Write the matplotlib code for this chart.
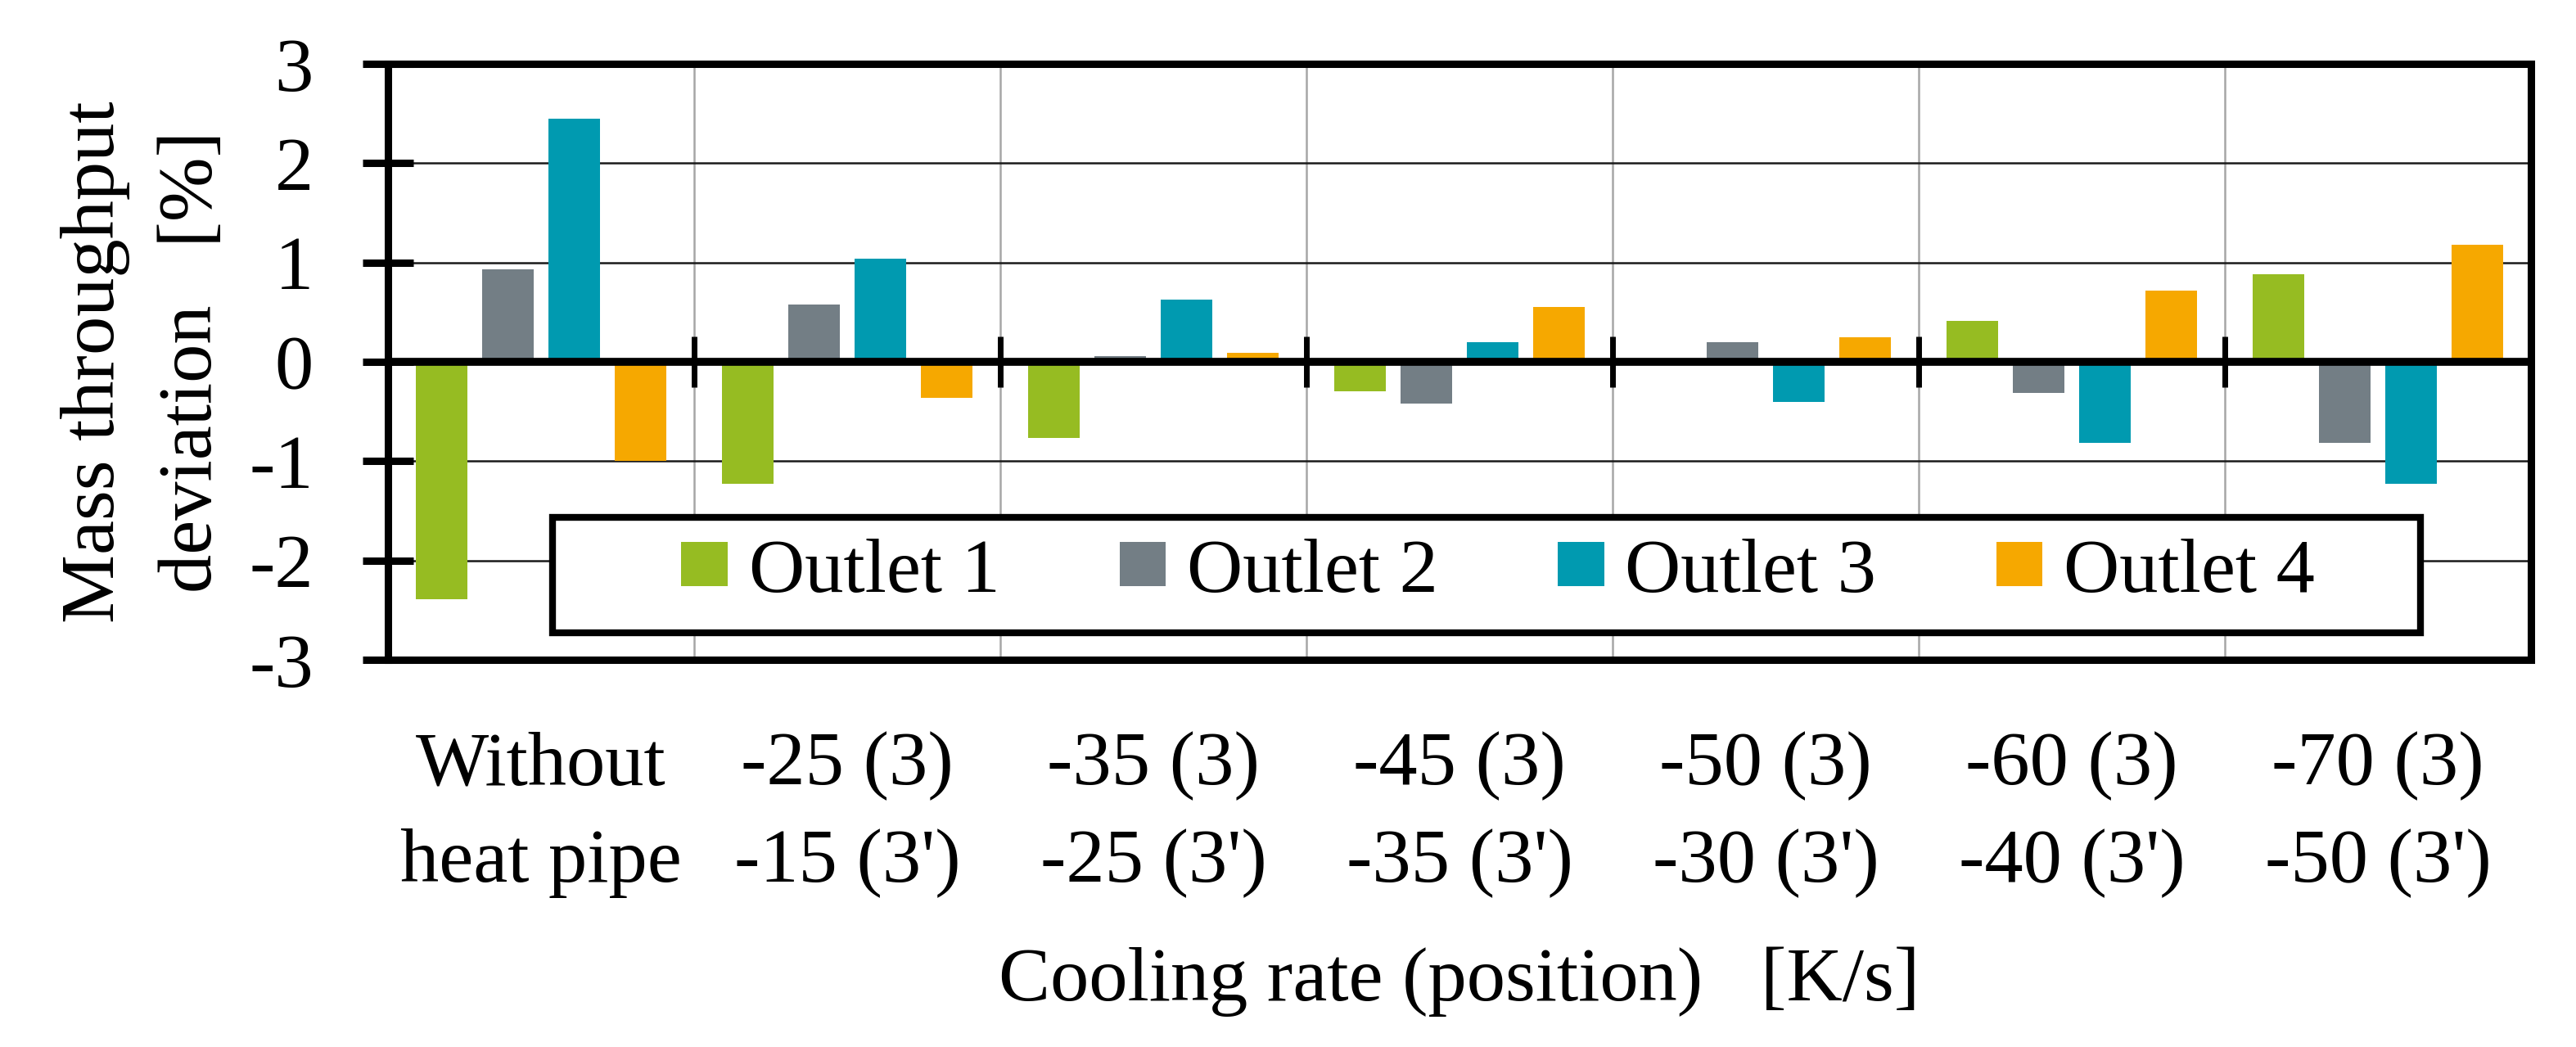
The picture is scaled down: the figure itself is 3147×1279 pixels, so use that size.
import matplotlib.pyplot as plt
import numpy as np
from matplotlib.patches import Rectangle

plt.rcParams["font.family"] = ["Liberation Serif", "DejaVu Serif"]
plt.rcParams["axes.unicode_minus"] = False

# Data
categories = [
    "Without\nheat pipe",
    "-25 (3)\n-15 (3')",
    "-35 (3)\n-25 (3')",
    "-45 (3)\n-35 (3')",
    "-50 (3)\n-30 (3')",
    "-60 (3)\n-40 (3')",
    "-70 (3)\n-50 (3')",
]
series_names = ["Outlet 1", "Outlet 2", "Outlet 3", "Outlet 4"]
outlet_1 = [-2.39, -1.23, -0.77, -0.30, -0.03, 0.41, 0.88]
outlet_2 = [0.93, 0.58, 0.06, -0.42, 0.20, -0.31, -0.82]
outlet_3 = [2.45, 1.04, 0.63, 0.20, -0.40, -0.82, -1.23]
outlet_4 = [-1.00, -0.36, 0.09, 0.55, 0.25, 0.72, 1.18]
y_ticks = [-3, -2, -1, 0, 1, 2, 3]

colors = ["#96BC22", "#737E85", "#009AB0", "#F6A800"]
FS = 68

W, H = 3147, 1279
fig = plt.figure(figsize=(W / 100, H / 100), dpi=100)
ax = fig.add_axes([474 / W, 1 - 806 / H, (3092 - 474) / W, (806 - 78) / H])

x = np.arange(len(categories))
step = 0.2166
width = 0.171
for i, (vals, name, c) in enumerate(zip([outlet_1, outlet_2, outlet_3, outlet_4], series_names, colors)):
    ax.bar(x + (i - 1.5) * step, vals, width, color=c, label=name, zorder=2)

ax.set_xlim(-0.5, len(categories) - 0.5)
ax.set_ylim(y_ticks[0], y_ticks[-1])

# y axis
ax.set_yticks(y_ticks)
ax.set_yticklabels([str(v) for v in y_ticks])
ax.tick_params(axis="y", direction="inout", length=45, width=6.5, pad=43, labelsize=FS)

# x axis: labels at centres, gray separators at boundaries
ax.set_xticks(x)
ax.set_xticklabels(categories)
ax.tick_params(axis="x", which="major", length=0, pad=63, labelsize=FS)
for lbl in ax.get_xticklabels():
    lbl.set_linespacing(1.52)
bounds = x[:-1] + 0.5
ax.set_xticks(bounds, minor=True)
ax.tick_params(axis="x", which="minor", length=0)

ax.grid(axis="x", which="minor", color="#A6A6A6", lw=1.8)
ax.grid(axis="y", which="major", color="#1A1A1A", lw=1.8)
ax.set_axisbelow(True)

for sp in ax.spines.values():
    sp.set_linewidth(6.5)

# zero line with small separator ticks
ax.axhline(0, color="black", lw=7, zorder=3)
ax.vlines(bounds, -0.255, 0.255, color="black", lw=5, zorder=3)

ax.set_ylabel("Mass throughput\ndeviation   [%]", fontsize=FS, linespacing=1.52)
ax.yaxis.set_label_coords(-0.075, 0.5)
ax.set_xlabel("Cooling rate (position)   [K/s]", fontsize=FS)
ax.xaxis.set_label_coords(0.5, -0.481)

# legend box
box = Rectangle((0.0768, 0.0453), 0.8716, 0.1937, transform=ax.transAxes,
                facecolor="white", edgecolor="black", lw=6, zorder=4)
ax.add_patch(box)
leg = ax.legend(loc="center", bbox_to_anchor=(0.518, 0.145), ncol=4, frameon=False,
                fontsize=FS, handlelength=0.6, handleheight=0.5, handletextpad=0.27,
                columnspacing=1.55)
leg.set_zorder(5)

fig.savefig("out.png", dpi=100)
